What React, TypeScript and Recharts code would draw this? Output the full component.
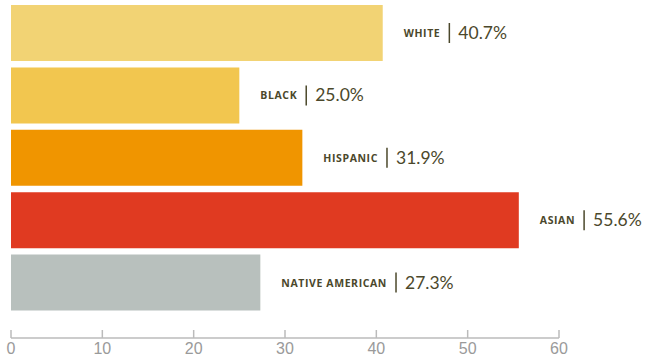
import React from 'react';
import { BarChart, Bar, XAxis, YAxis, Cell, LabelList } from 'recharts';

const groups = ['White', 'Black', 'Hispanic', 'Asian', 'Native American'];
const rates = [40.7, 25.0, 31.9, 55.6, 27.3];
const barColors = ['#f2d374', '#f2c64f', '#f09500', '#e03a21', '#b8c0bd'];
const xTicks = [0, 10, 20, 30, 40, 50, 60];

const data = groups.map((g, i) => ({ name: g, value: rates[i] }));

const TEXT = '#4b482b';
const NAME_FONT = 'bold 10.5px "Open Sans"';

// measure the small-caps label so the divider lands right after it
let ctx: CanvasRenderingContext2D | null = null;
const measure = (s: string, font: string) => {
  if (!ctx) ctx = document.createElement('canvas').getContext('2d');
  if (!ctx) return s.length * 7;
  ctx.font = font;
  return ctx.measureText(s).width + s.length * 0.6;
};

const BarLabel = (props: any) => {
  const { x, y, width, height, value, index } = props;
  const name = groups[index].toUpperCase();
  const cy = y + height / 2;
  const x0 = x + width + 21;
  const nameW = measure(name, NAME_FONT);
  const lineX = x0 + nameW + 9;
  return (
    <g>
      <text x={x0} y={cy + 4} fontFamily="Open Sans" fontWeight={700} fontSize={10.5}
        letterSpacing={0.6} fill={TEXT}>{name}</text>
      <line x1={lineX} x2={lineX} y1={cy - 10} y2={cy + 10} stroke={TEXT} strokeWidth={1.5} />
      <text x={lineX + 9} y={cy + 6} fontFamily="Lato" fontSize={17.5} fill={TEXT}>
        {Number(value).toFixed(1)}%
      </text>
    </g>
  );
};

const AxisTick = (props: any) => {
  const { x, y, payload } = props;
  return (
    <g>
      <line x1={x} x2={x} y1={y - 8} y2={y} stroke="#bbbbbb" strokeWidth={1.5} />
      <text x={x} y={y + 16} textAnchor="middle" fontFamily='"Liberation Sans Narrow", "Liberation Sans"'
        fontSize={16} fill="#9a9a9a">{payload.value}</text>
    </g>
  );
};

export default function App() {
  return (
    <div style={{ position: 'absolute', left: 0, top: 0, width: 645, height: 360, background: '#fff' }}>
      <BarChart width={645} height={360} data={data} layout="vertical"
        margin={{ top: 2, right: 86, bottom: 0, left: 11 }}>
        <XAxis type="number" domain={[0, 60]} ticks={xTicks} height={22}
          axisLine={{ stroke: '#bbbbbb', strokeWidth: 1.5 }} tickLine={false}
          tickSize={0} tickMargin={0} tick={<AxisTick />} />
        <YAxis type="category" dataKey="name" width={0} tick={false} tickLine={false}
          axisLine={{ stroke: '#bbbbbb', strokeWidth: 2 }} padding={{ top: 0, bottom: 24 }} />
        <Bar dataKey="value" barSize={56} isAnimationActive={false}>
          {data.map((d, i) => (
            <Cell key={d.name} fill={barColors[i]} />
          ))}
          <LabelList dataKey="value" content={<BarLabel />} />
        </Bar>
      </BarChart>
    </div>
  );
}
